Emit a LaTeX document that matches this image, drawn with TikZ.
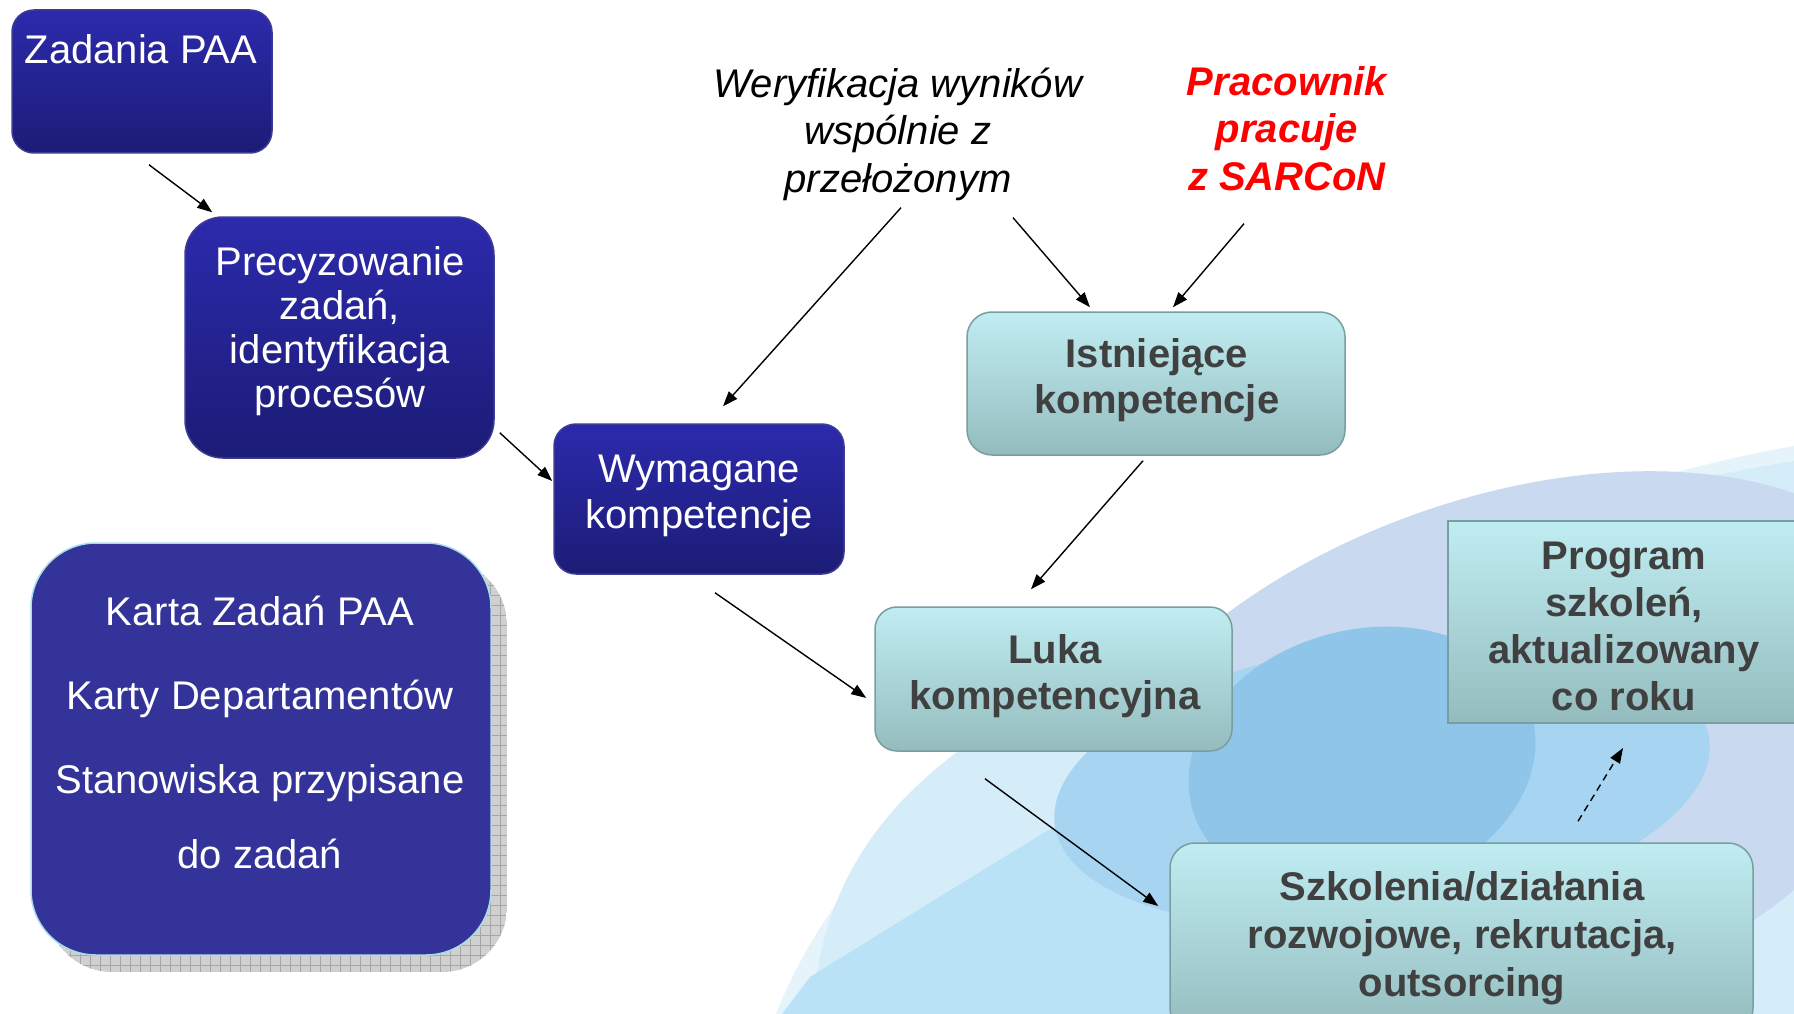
\documentclass[tikz,border=0pt]{standalone}
\usepackage{fontspec}
\setmainfont{Liberation Sans}
\usetikzlibrary{arrows.meta,calc}
\definecolor{dbtop}{RGB}{44,42,172}
\definecolor{dbbot}{RGB}{28,28,118}
\definecolor{dbline}{RGB}{60,60,150}
\definecolor{cytop}{RGB}{192,237,242}
\definecolor{cybot}{RGB}{148,188,190}
\definecolor{cyline}{RGB}{120,158,160}
\definecolor{txtgray}{RGB}{64,64,64}
\definecolor{karta}{RGB}{51,51,153}
\definecolor{kartaline}{RGB}{170,220,236}
\definecolor{shadowgray}{RGB}{208,208,208}
\definecolor{gridgray}{RGB}{165,165,165}
\definecolor{bgA}{RGB}{229,244,251}
\definecolor{bgB}{RGB}{213,236,249}
\definecolor{bgC}{RGB}{201,217,239}
\definecolor{bgD}{RGB}{186,226,247}
\definecolor{bgE}{RGB}{166,212,241}
\definecolor{bgF}{RGB}{143,197,232}
\definecolor{redtxt}{RGB}{255,0,0}
\begin{document}
\begin{tikzpicture}[x=1pt,y=-1pt,
  dbox/.style={draw=dbline, line width=1.5pt, top color=dbtop, bottom color=dbbot, rounded corners=#1, inner sep=0pt},
  cbox/.style={draw=cyline, line width=1.5pt, top color=cytop, bottom color=cybot, rounded corners=#1, inner sep=0pt},
  pbox/.style={draw=cyline, line width=2pt, top color=cytop, bottom color=cybot, inner sep=0pt},
  wtxt/.style={text=white, align=center, inner sep=0pt, anchor=north},
  gtxt/.style={text=txtgray, align=center, inner sep=0pt, anchor=north},
  arr/.style={line width=1.4pt, -{Triangle[length=15pt,width=11pt]}}]
\clip (0,0) rectangle (1794,1014);
\fill[white] (0,0) rectangle (1794,1014);
% background
\fill[bgA] (770,1030) .. controls (830,860) and (1000,700) .. (1250,610) .. controls (1450,540) and (1650,470) .. (1800,445) -- (1800,1030) -- cycle;
\fill[bgB] (812,1030) .. controls (815,880) and (890,780) .. (1040,700) .. controls (1250,590) and (1550,500) .. (1800,460) -- (1800,1030) -- cycle;
\fill[bgC, rotate around={20:(1500,760)}] (1500,760) ellipse [x radius=450, y radius=260];
\fill[bgD] (770,1030) -- (810,977) .. controls (950,890) and (1080,810) .. (1183,750) .. controls (1300,690) and (1450,700) .. (1550,780) -- (1650,1030) -- cycle;
\fill[bgE, rotate around={7.5:(1382,782)}] (1382,782) ellipse [x radius=330, y radius=140];
\fill[bgF, rotate around={15:(1362,762)}] (1362,762) ellipse [x radius=176, y radius=132];
% Karta shadow
\begin{scope}
\clip[rounded corners=65pt] (47,560) rectangle (507,972);
\fill[shadowgray] (47,560) rectangle (507,972);
\foreach \i in {50,60,...,500} \draw[gridgray, line width=0.6pt] (\i,560) -- (\i,972);
\foreach \j in {565,575,...,970} \draw[gridgray, line width=0.6pt] (47,\j) -- (507,\j);
\end{scope}
% boxes
\node[dbox=22pt, minimum width=260pt, minimum height=143pt] (zad) at (142,81.5) {};
\node[dbox=38pt, minimum width=309pt, minimum height=241pt] (prec) at (339.5,337.5) {};
\node[dbox=22pt, minimum width=290pt, minimum height=150pt] (wym) at (699,499) {};
\node[draw=kartaline, line width=1.5pt, fill=karta, rounded corners=65pt, minimum width=460pt, minimum height=412pt, inner sep=0pt] (karta) at (261,749) {};
\node[cbox=25pt, minimum width=378pt, minimum height=143pt] (ist) at (1156,383.5) {};
\node[cbox=22pt, minimum width=357pt, minimum height=144pt] (luka) at (1053.5,679) {};
\node[pbox, minimum width=360pt, minimum height=202pt] (prog) at (1628,622) {};
\node[cbox=25pt, minimum width=583pt, minimum height=190pt] (szk) at (1461.5,938) {};
% texts
\node[wtxt, font=\fontsize{40}{46}\selectfont] (zadT) at (141,30.8) {\strut Zadania PAA};
\node[wtxt, font=\fontsize{40}{44}\selectfont] (precT) at (340,244.2) {\strut Precyzowanie\\\strut zadań,\\\strut identyfikacja\\\strut procesów};
\node[wtxt, font=\fontsize{40}{46}\selectfont] (wymT) at (699,449.8) {\strut Wymagane\\\strut kompetencje};
\node[wtxt, font=\fontsize{40}{40}\selectfont] (kartaT) at (260,596) {\strut Karta Zadań PAA\\[41pt]\strut Karty Departamentów\\[42pt]\strut Stanowiska przypisane\\[33pt]\strut do zadań};
\node[gtxt, font=\bfseries\fontsize{40}{46}\selectfont] (istT) at (1157,334.8) {\strut Istniejące\\\strut kompetencje};
\node[gtxt, font=\bfseries\fontsize{40}{46}\selectfont] (lukaT) at (1055,630.8) {\strut Luka\\\strut kompetencyjna};
\node[gtxt, font=\bfseries\fontsize{40}{47}\selectfont] (progT) at (1624,536.1) {\strut Program\\\strut szkoleń,\\\strut aktualizowany\\\strut co roku};
\node[gtxt, font=\bfseries\fontsize{40}{48}\selectfont] (szkT) at (1462,866.4) {\strut Szkolenia/działania\\\strut rozwojowe, rekrutacja,\\\strut outsorcing};
\node[text=black, align=center, inner sep=0pt, anchor=north, font=\itshape\fontsize{40}{47.5}\selectfont] (werT) at (898,63.75) {\strut Weryfikacja wyników\\\strut wspólnie z\\\strut przełożonym};
\node[text=redtxt, align=center, inner sep=0pt, anchor=north, font=\bfseries\itshape\fontsize{40}{47.5}\selectfont] (pracT) at (1287,61.75) {\strut Pracownik\\\strut pracuje\\\strut z SARCoN};
% connector ends
\coordinate (a1s) at ($(zad.south)+(7,11)$);
\coordinate (a1e) at ($(prec.north west)+(28,-4)$);
\coordinate (a2s) at ($(prec.south east)+(5,-26)$);
\coordinate (a2e) at ($(wym.west)+(-1,-18)$);
\coordinate (a3s) at ($(werT.south)+(3,1)$);
\coordinate (a3e) at ($(wym.north)+(24,-17)$);
\coordinate (a4s) at ($(werT.south)+(115,11)$);
\coordinate (a4e) at ($(ist.north)+(-66,-4)$);
\coordinate (a5s) at ($(pracT.south)+(-43,19)$);
\coordinate (a5e) at ($(ist.north)+(17,-4)$);
\coordinate (a6s) at ($(ist.south)+(-13,5)$);
\coordinate (a6e) at ($(luka.north)+(-22.5,-17)$);
\coordinate (a7s) at ($(wym.south)+(16,18)$);
\coordinate (a7e) at ($(luka.west)+(-8,19)$);
\coordinate (a8s) at ($(luka.south)+(-68.5,27)$);
\coordinate (a8e) at ($(szk.west)+(-11,-32)$);
\coordinate (a9s) at ($(szk.north)+(116.5,-21)$);
\coordinate (a9e) at ($(prog.south)+(-5,24)$);
% connectors
\draw[arr] (a1s) -- (a1e);
\draw[arr] (a2s) -- (a2e);
\draw[arr] (a3s) -- (a3e);
\draw[arr] (a4s) -- (a4e);
\draw[arr] (a5s) -- (a5e);
\draw[arr] (a6s) -- (a6e);
\draw[arr] (a7s) -- (a7e);
\draw[arr] (a8s) -- (a8e);
\draw[arr, dash pattern=on 7pt off 5pt] (a9s) -- (a9e);
\end{tikzpicture}
\end{document}
